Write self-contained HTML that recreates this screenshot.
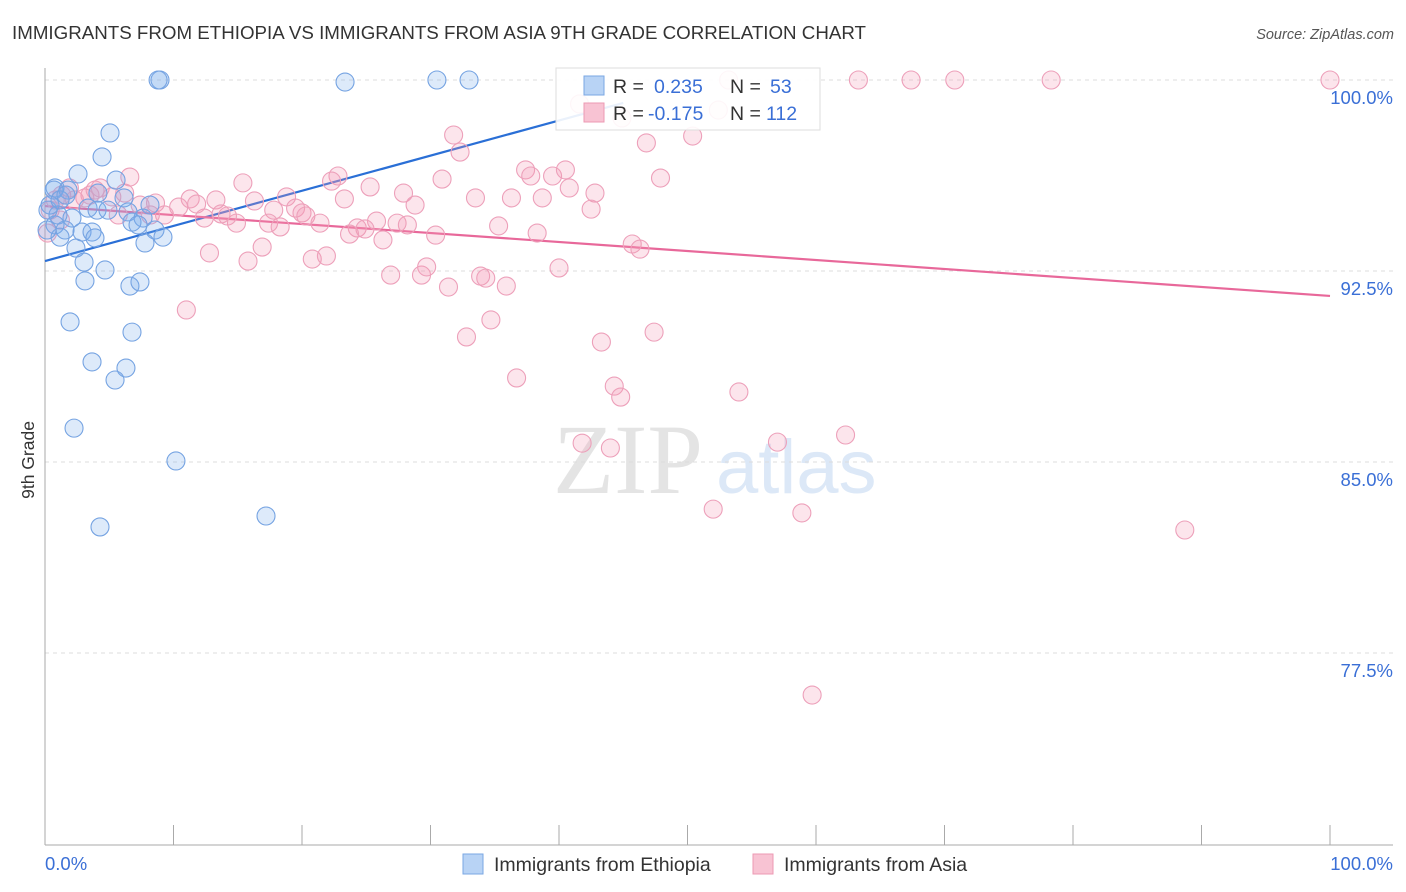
<!DOCTYPE html>
<html><head><meta charset="utf-8"><style>
body{margin:0;background:#fff;font-family:"Liberation Sans",sans-serif;}
svg{display:block}
</style></head><body>
<svg id="chart" width="1406" height="892" xmlns="http://www.w3.org/2000/svg">
<text x="12" y="39" font-size="18" fill="#333" textLength="854" lengthAdjust="spacingAndGlyphs">IMMIGRANTS FROM ETHIOPIA VS IMMIGRANTS FROM ASIA 9TH GRADE CORRELATION CHART</text>
<text x="1394" y="39" font-size="14.5" fill="#555" font-style="italic" text-anchor="end">Source: ZipAtlas.com</text>
<g>
<text x="553" y="493" font-size="100" font-family="Liberation Serif" fill="#e4e4e4">ZIP</text>
<text x="716" y="493" font-size="76" fill="#dce8f7">atlas</text>
</g>
<g id="grid"></g>
<g id="axes"></g>
<text transform="translate(34,460) rotate(-90)" font-size="17.5" fill="#333" text-anchor="middle">9th Grade</text>
<g id="trends"></g>
<g id="pts"></g>
<g>
<rect x="556" y="68" width="264" height="62" fill="#fff" fill-opacity="0.9" stroke="#ddd"/>
<rect x="584" y="76" width="20" height="19" fill="#b8d3f5" stroke="#7aa7e3"/>
<rect x="584" y="103" width="20" height="19" fill="#f8c3d3" stroke="#ec9ab3"/>
<text x="613" y="93" font-size="19.5" fill="#333">R = </text>
<text x="654" y="93" font-size="19.5" fill="#3a6fd6">0.235</text>
<text x="730" y="93" font-size="19.5" fill="#333">N = </text>
<text x="770" y="93" font-size="19.5" fill="#3a6fd6">53</text>
<text x="613" y="120" font-size="19.5" fill="#333">R = </text>
<text x="648" y="120" font-size="19.5" fill="#3a6fd6">-0.175</text>
<text x="730" y="120" font-size="19.5" fill="#333">N = </text>
<text x="766" y="120" font-size="19.5" fill="#3a6fd6">112</text>
</g>
<g>
<rect x="463" y="854" width="20" height="20" fill="#b8d3f5" stroke="#7aa7e3"/>
<text x="494" y="871" font-size="19.5" fill="#333">Immigrants from Ethiopia</text>
<rect x="753" y="854" width="20" height="20" fill="#f8c3d3" stroke="#ec9ab3"/>
<text x="784" y="871" font-size="19.5" fill="#333">Immigrants from Asia</text>
</g>
</svg>
<script>
const yTicks=[100,92.5,85,77.5];
const yTickLabels=["100.0%","92.5%","85.0%","77.5%"];
const xTickLabels=["0.0%","100.0%"];
const blueX=[8.95,8.8,23.35,30.5,33.0,5.06,4.44,2.57,5.53,0.78,0.70,1.79,4.12,6.15,0.23,1.01,2.10,3.35,4.05,4.90,6.46,7.63,6.77,7.24,0.78,1.56,1.17,2.88,3.66,3.89,8.56,9.18,7.78,2.41,3.04,4.67,3.11,6.61,7.39,1.95,6.77,3.66,6.30,5.45,2.26,10.19,4.28,17.2,0.39,1.17,8.17,0.16,1.63];
const blueY=[100,100,99.92,100,100,97.92,96.98,96.31,96.07,95.76,95.68,95.68,95.56,95.37,94.89,94.70,94.58,94.97,94.89,94.89,94.82,94.58,94.42,94.31,94.31,94.11,93.83,94.03,94.03,93.80,94.11,93.83,93.60,93.40,92.85,92.54,92.11,91.91,92.07,90.50,90.10,88.93,88.69,88.22,86.33,85.04,82.45,82.88,95.09,95.29,95.09,94.11,95.48];
const pinkX=[53.2,63.3,67.4,70.8,78.3,100,52.4,46.8,50.4,41.6,44.9,47.9,47.4,54.0,41.8,44.0,57.0,62.3,52.0,58.9,88.7,59.7,
31.8,32.3,37.4,37.8,39.5,40.5,40.8,42.8,42.5,30.9,33.5,36.3,38.7,35.3,38.3,45.7,46.3,30.4,27.9,28.8,25.3,23.3,22.8,22.3,15.4,13.3,11.3,11.8,10.4,8.6,16.3,18.8,17.8,19.5,20.0,20.3,21.4,17.4,18.3,14.9,14.2,13.7,12.4,9.3,25.8,27.4,28.2,24.3,24.9,23.7,26.3,12.8,16.9,15.8,20.8,21.9,26.9,29.3,29.7,31.4,33.9,34.3,35.9,40.0,11.0,34.7,32.8,43.3,36.7,44.3,44.8,
0.2,0.4,0.8,1.3,1.9,3.1,3.5,3.9,4.3,5.2,5.7,6.2,6.6,7.4,8.2,1.2,2.3];
const pinkY=[100,100,100,100,100,100,98.82,97.53,97.80,99.06,98.51,96.15,90.10,87.75,85.74,85.55,85.78,86.06,83.15,83.00,82.33,75.85,
97.84,97.17,96.47,96.23,96.23,96.47,95.76,95.56,94.93,96.11,95.37,95.37,95.37,94.27,93.99,93.56,93.36,93.91,95.56,95.09,95.80,95.33,96.23,96.03,95.96,95.29,95.33,95.13,95.01,95.17,95.25,95.41,94.89,94.97,94.78,94.66,94.38,94.38,94.23,94.38,94.66,94.74,94.58,94.70,94.46,94.38,94.31,94.19,94.15,93.95,93.72,93.21,93.44,92.89,92.97,93.09,92.34,92.34,92.66,91.87,92.30,92.22,91.91,92.62,90.97,90.58,89.91,89.71,88.30,87.98,87.55,
93.99,94.89,95.29,95.48,95.76,95.37,95.48,95.68,95.76,95.41,94.70,95.56,96.19,95.09,94.70,94.50,95.29];
const blueTrendX=[0,45];
const blueTrendY=[92.89,99.1];
const pinkTrendX=[0,100];
const pinkTrendY=[95.05,91.52];

const NS="http://www.w3.org/2000/svg";
const X=v=>45+v*12.85;
const Y=v=>80+(100-v)*191/7.5;
function mk(tag,attrs,parent){const e=document.createElementNS(NS,tag);for(const k in attrs)e.setAttribute(k,attrs[k]);parent.appendChild(e);return e;}
const grid=document.getElementById('grid'),axes=document.getElementById('axes');
yTicks.forEach((t,i)=>{
  const l=mk('line',{x1:45,x2:1393,y1:Y(t),y2:Y(t),stroke:'#ddd','stroke-dasharray':'4,4'},grid);
  
  
  const tx=mk('text',{x:1393,y:Y(t)+24,'font-size':18.5,fill:'#3a6fd6','text-anchor':'end'},axes);
  tx.textContent=yTickLabels[i];
  
  
});
let a=mk('line',{x1:45,x2:45,y1:68,y2:845,stroke:'#aaa'},axes);


a=mk('line',{x1:45,x2:1393,y1:845,y2:845,stroke:'#aaa'},axes);


for(let i=0;i<=10;i++){
  const t=mk('line',{x1:X(i*10),x2:X(i*10),y1:825,y2:845,stroke:'#aaa'},axes);
  
  
}
let xl=mk('text',{x:45,y:870,'font-size':18.5,fill:'#3a6fd6'},axes);xl.textContent=xTickLabels[0];


xl=mk('text',{x:1393,y:870,'font-size':18.5,fill:'#3a6fd6','text-anchor':'end'},axes);xl.textContent=xTickLabels[1];


const pts=document.getElementById('pts');
pinkX.forEach((v,i)=>{
  const c=mk('circle',{cx:X(v),cy:Y(pinkY[i]),r:9,fill:'rgba(244,150,180,0.25)',stroke:'#eda0ba','stroke-width':1.1},pts);
  
  
});
blueX.forEach((v,i)=>{
  const c=mk('circle',{cx:X(v),cy:Y(blueY[i]),r:9,fill:'rgba(120,170,235,0.25)',stroke:'#75a3e2','stroke-width':1.1},pts);
  
  
});
const tr=document.getElementById('trends');
let ln=mk('line',{x1:X(blueTrendX[0]),y1:Y(blueTrendY[0]),x2:X(blueTrendX[1]),y2:Y(blueTrendY[1]),stroke:'#2a6fd6','stroke-width':2.2},tr);


ln=mk('line',{x1:X(pinkTrendX[0]),y1:Y(pinkTrendY[0]),x2:X(pinkTrendX[1]),y2:Y(pinkTrendY[1]),stroke:'#e8689a','stroke-width':2.2},tr);


</script>
</body></html>
